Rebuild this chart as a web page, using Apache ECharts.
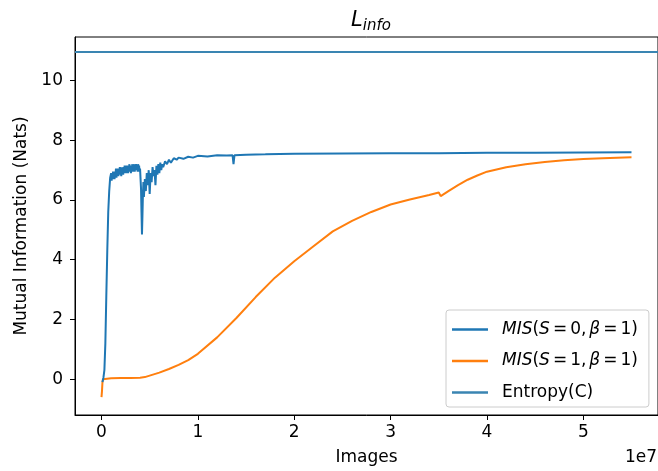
<!DOCTYPE html>
<html>
<head>
<meta charset="utf-8">
<script src="https://cdn.jsdelivr.net/npm/echarts@6/dist/echarts.min.js"></script>
<style>html,body{margin:0;padding:0;background:#fff}#c{width:658px;height:471px}</style>
</head>
<body>
<div id="c"></div>
<script>
// Data (x in units of 1e7 images)
const xTicks = [0, 1, 2, 3, 4, 5];
const yTicks = [0, 2, 4, 6, 8, 10];
const xLimits = [-0.275, 5.775];
const yLimits = [-1.2, 11.46];
const entropyValue = 10.96;

const misS0_x = [0.01,0.02,0.03,0.04,0.05,0.06,0.07,0.08,0.09,0.10,0.105,0.11,0.115,0.12,0.125,0.13,0.135,0.14,0.145,0.15,0.155,0.16,0.165,0.17,0.175,0.18,0.185,0.19,0.195,0.20,0.205,0.21,0.215,0.22,0.225,0.23,0.235,0.24,0.245,0.25,0.255,0.26,0.265,0.27,0.275,0.28,0.285,0.29,0.295,0.30,0.305,0.31,0.315,0.32,0.325,0.33,0.335,0.34,0.345,0.35,0.355,0.36,0.365,0.37,0.375,0.38,0.385,0.39,0.395,0.40,0.41,0.415,0.42,0.425,0.43,0.435,0.44,0.45,0.46,0.47,0.48,0.49,0.50,0.51,0.52,0.53,0.54,0.55,0.56,0.57,0.58,0.59,0.60,0.61,0.62,0.63,0.64,0.66,0.68,0.70,0.72,0.75,0.78,0.80,0.85,0.90,0.95,1.0,1.1,1.2,1.3,1.36,1.37,1.38,1.5,1.7,2.0,2.5,3.0,3.5,4.0,4.5,5.0,5.5];
const misS0_y = [-0.1,0.05,0.3,1.2,2.8,4.3,5.6,6.3,6.75,6.9,6.65,6.85,6.7,6.95,6.75,6.9,6.7,6.95,6.8,7.05,6.75,6.95,6.85,7.05,6.8,7.0,6.85,7.1,6.9,7.0,6.8,7.1,6.9,7.05,6.85,7.1,6.9,7.15,6.95,7.05,6.9,7.15,6.95,7.1,6.9,7.15,7.0,7.2,6.95,7.1,6.9,7.15,7.0,7.2,6.95,7.1,7.0,7.2,6.95,7.15,7.0,7.2,7.05,7.15,6.95,7.2,7.05,7.15,6.95,7.05,6.4,5.6,4.85,5.5,6.2,6.6,6.1,6.7,6.3,6.9,6.5,7.0,6.2,6.9,6.6,7.1,6.8,7.0,6.5,7.15,6.85,7.2,6.9,7.25,7.0,7.2,7.1,7.3,7.2,7.35,7.25,7.4,7.35,7.42,7.38,7.45,7.42,7.48,7.46,7.5,7.49,7.5,7.2,7.5,7.52,7.53,7.55,7.56,7.57,7.57,7.58,7.58,7.59,7.6];

const misS1_x = [0.0,0.005,0.01,0.015,0.02,0.1,0.2,0.3,0.4,0.45,0.5,0.6,0.7,0.8,0.9,1.0,1.2,1.4,1.6,1.8,2.0,2.2,2.4,2.6,2.8,3.0,3.2,3.4,3.5,3.52,3.6,3.7,3.8,3.9,4.0,4.2,4.4,4.6,4.8,5.0,5.2,5.5];
const misS1_y = [-0.6,-0.4,-0.1,0.0,0.03,0.03,0.04,0.04,0.05,0.07,0.12,0.22,0.34,0.48,0.64,0.85,1.4,2.05,2.75,3.4,3.95,4.45,4.95,5.3,5.6,5.85,6.02,6.17,6.25,6.13,6.3,6.5,6.68,6.82,6.95,7.1,7.2,7.27,7.33,7.37,7.4,7.43];

const zip = (a, b) => a.map((v, i) => [v, b[i]]);
const FONT = 'DejaVu Sans';
const FS = 17;
const rich = {
  i: {fontFamily: FONT, fontStyle: 'italic', fontSize: FS, color: '#000'},
  n: {fontFamily: FONT, fontSize: FS, color: '#000'},
  e: {fontFamily: FONT, fontSize: FS, color: '#000', padding: [0, 3, 0, 3]},
  c: {fontFamily: FONT, fontSize: FS, color: '#000', padding: [0, 3, 0, 0]}
};
const legendLabels = {
  'MIS(S = 0, β = 1)': '{i|MIS}{n|(}{i|S}{e|=}{n|0}{c|,}{i|β}{e|=}{n|1)}',
  'MIS(S = 1, β = 1)': '{i|MIS}{n|(}{i|S}{e|=}{n|1}{c|,}{i|β}{e|=}{n|1)}',
  'Entropy(C)': '{n|Entropy(C)}'
};

const chart = echarts.init(document.getElementById('c'), null, {renderer: 'canvas'});
chart.setOption({
  animation: false,
  backgroundColor: '#fff',
  title: {
    text: '{L|L}{s|info}',
    left: 366, top: 2, textAlign: 'center',
    textStyle: {
      fontWeight: 'normal',
      rich: {
        L: {fontFamily: FONT, fontStyle: 'italic', fontWeight: 'normal', fontSize: 21, color: '#000'},
        s: {fontFamily: FONT, fontStyle: 'italic', fontWeight: 'normal', fontSize: 15, color: '#000', padding: [12, 0, 0, 0]}
      }
    }
  },
  grid: {left: 75, top: 37, right: -4, bottom: 55, show: true, borderColor: '#000', borderWidth: 1, backgroundColor: 'transparent'},
  xAxis: {
    type: 'value', min: xLimits[0], max: xLimits[1],
    name: 'Images', nameLocation: 'middle', nameGap: 34,
    nameTextStyle: {fontFamily: FONT, fontSize: FS, color: '#000'},
    axisLine: {show: true, onZero: false, lineStyle: {color: '#000', width: 1}},
    axisTick: {show: true, length: 5, lineStyle: {color: '#000'}, customValues: xTicks},
    axisLabel: {fontFamily: FONT, fontSize: FS, color: '#000', margin: 9, customValues: xTicks},
    splitLine: {show: false}
  },
  yAxis: {
    type: 'value', min: yLimits[0], max: yLimits[1],
    name: 'Mutual Information (Nats)', nameLocation: 'middle', nameGap: 44, nameRotate: 90,
    nameTextStyle: {fontFamily: FONT, fontSize: FS, color: '#000'},
    axisLine: {show: true, onZero: false, lineStyle: {color: '#000', width: 1}},
    axisTick: {show: true, length: 5, lineStyle: {color: '#000'}, customValues: yTicks},
    axisLabel: {fontFamily: FONT, fontSize: FS, color: '#000', margin: 12, customValues: yTicks},
    splitLine: {show: false}
  },
  legend: {
    orient: 'vertical', left: 446, top: 310,
    padding: [11, 11, 6, 6],
    backgroundColor: '#fff', borderColor: '#ccc', borderWidth: 1, borderRadius: 3,
    icon: 'rect', itemWidth: 36, itemHeight: 2.5, itemGap: 14.5,
    data: ['MIS(S = 0, β = 1)', 'MIS(S = 1, β = 1)', 'Entropy(C)'],
    formatter: name => legendLabels[name],
    textStyle: {rich: rich, padding: [0, 0, 0, 9]}
  },
  series: [
    {
      name: 'MIS(S = 0, β = 1)', type: 'line', showSymbol: false, symbol: 'none',
      data: zip(misS0_x, misS0_y), color: '#1f77b4',
      lineStyle: {width: 2, color: '#1f77b4'}, z: 3
    },
    {
      name: 'MIS(S = 1, β = 1)', type: 'line', showSymbol: false, symbol: 'none',
      data: zip(misS1_x, misS1_y), color: '#ff7f0e',
      lineStyle: {width: 2, color: '#ff7f0e'}, z: 2
    },
    {
      name: 'Entropy(C)', type: 'line', showSymbol: false, symbol: 'none',
      data: [[xLimits[0], entropyValue], [xLimits[1], entropyValue]], color: '#3a85b2',
      lineStyle: {width: 2, color: '#3a85b2'}, z: 2
    }
  ],
  graphic: [
    {type: 'text', right: 1, top: 449, style: {text: '1e7', fontFamily: FONT, fontSize: FS, fill: '#000'}}
  ]
});
</script>
</body>
</html>
